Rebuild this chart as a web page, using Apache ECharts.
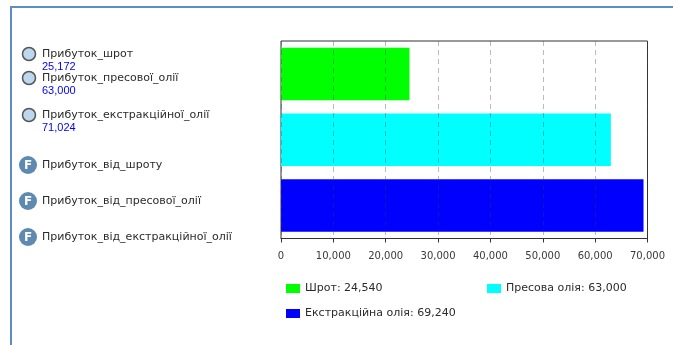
<!DOCTYPE html>
<html>
<head>
<meta charset="utf-8">
<style>html,body{margin:0;padding:0;background:#fff}#chart{width:673px;height:345px}</style>
<script src="https://cdn.jsdelivr.net/npm/echarts@6/dist/echarts.min.js"></script>
</head>
<body>
<div id="chart"></div>
<script>
// Profit by product: bar values, plus the model's input and formula node lists
const categories = ['Шрот', 'Пресова олія', 'Екстракційна олія'];
const profitValues = [24540, 63000, 69240];
const barColors = ['#00ff00', '#00ffff', '#0000ff'];
const inputNames = ['Прибуток_шрот', 'Прибуток_пресової_олії', 'Прибуток_екстракційної_олії'];
const inputValues = ['25,172', '63,000', '71,024'];
const formulaNames = ['Прибуток_від_шроту', 'Прибуток_від_пресової_олії', 'Прибуток_від_екстракційної_олії'];

const FONT = '"DejaVu Sans"';
const TEXT = '#2b2b2b';
const NAME_SIZE = 11;
const fmt = v => v.toLocaleString('en-US');

// Left-hand node panel
const inputRows = [[54, 54, 67], [78, 78, 91], [115, 115, 128]];
const formulaRows = [165, 201, 237];
const panel = [
  { type: 'line', shape: { x1: 11, y1: 7, x2: 11, y2: 345 }, style: { stroke: '#5f8cc6', lineWidth: 2 } },
  { type: 'line', shape: { x1: 10, y1: 7, x2: 673, y2: 7 }, style: { stroke: '#5f8cc6', lineWidth: 2 } }
];
inputNames.forEach((name, i) => {
  const [cy, ny, vy] = inputRows[i];
  panel.push({ type: 'circle', shape: { cx: 29, cy: cy, r: 6.5 }, style: { fill: '#bdd7ee', stroke: '#555', lineWidth: 1.5 } });
  panel.push({ type: 'text', x: 42, y: ny, style: { text: name, font: NAME_SIZE + 'px ' + FONT, fill: TEXT, textVerticalAlign: 'middle' } });
  panel.push({ type: 'text', x: 42, y: vy, style: { text: inputValues[i], font: '11px "Liberation Sans"', fill: '#0000ff', textVerticalAlign: 'middle' } });
});
formulaNames.forEach((name, i) => {
  const cy = formulaRows[i];
  panel.push({ type: 'circle', shape: { cx: 28, cy: cy, r: 9 }, style: { fill: '#5f8ab0' } });
  panel.push({ type: 'text', x: 28, y: cy + 1, style: { text: 'F', font: 'bold 12px ' + FONT, fill: '#fff', textAlign: 'center', textVerticalAlign: 'middle' } });
  panel.push({ type: 'text', x: 42, y: cy, style: { text: name, font: NAME_SIZE + 'px ' + FONT, fill: TEXT, textVerticalAlign: 'middle' } });
});

// One legend component per item gives the two-column placement
const legendSpots = [[286, 283], [487, 283], [286, 308]];
const legends = categories.map((name, i) => ({
  data: [{ name: name, icon: 'rect' }],
  left: legendSpots[i][0],
  top: legendSpots[i][1],
  itemWidth: 14,
  itemHeight: 9,
  itemGap: 4,
  padding: 0,
  selectedMode: false,
  textStyle: { fontFamily: FONT, fontSize: NAME_SIZE, color: TEXT, padding: [0, 0, 0, 0] },
  formatter: () => name + ': ' + fmt(profitValues[i])
}));

const series = categories.map((name, i) => ({
  type: 'bar',
  name: name,
  stack: 'profit',
  barWidth: 52.5,
  silent: true,
  itemStyle: { color: barColors[i] },
  data: categories.map((_, j) => (j === i ? profitValues[i] : null))
}));

const chart = echarts.init(document.getElementById('chart'), null, { renderer: 'canvas' });
chart.setOption({
  animation: false,
  backgroundColor: '#fff',
  graphic: panel,
  legend: legends,
  grid: { left: 281, top: 41, width: 366.5, height: 197.5, show: true, borderColor: '#333', borderWidth: 1, backgroundColor: '#fff' },
  xAxis: {
    type: 'value',
    min: 0,
    max: 70000,
    interval: 10000,
    z: 5,
    axisLine: { show: true, lineStyle: { color: '#333' } },
    axisTick: { show: true, length: 4, lineStyle: { color: '#333' } },
    axisLabel: { fontFamily: FONT, fontSize: 10, color: '#3a3a3a', margin: 13, formatter: v => fmt(v), hideOverlap: false },
    splitLine: { show: true, lineStyle: { color: 'rgba(60,60,60,0.35)', type: [5, 4], width: 1 } }
  },
  yAxis: {
    type: 'category',
    inverse: true,
    data: categories,
    axisLine: { show: false },
    axisTick: { show: false },
    axisLabel: { show: false },
    splitLine: { show: false }
  },
  series: series
});
</script>
</body>
</html>
